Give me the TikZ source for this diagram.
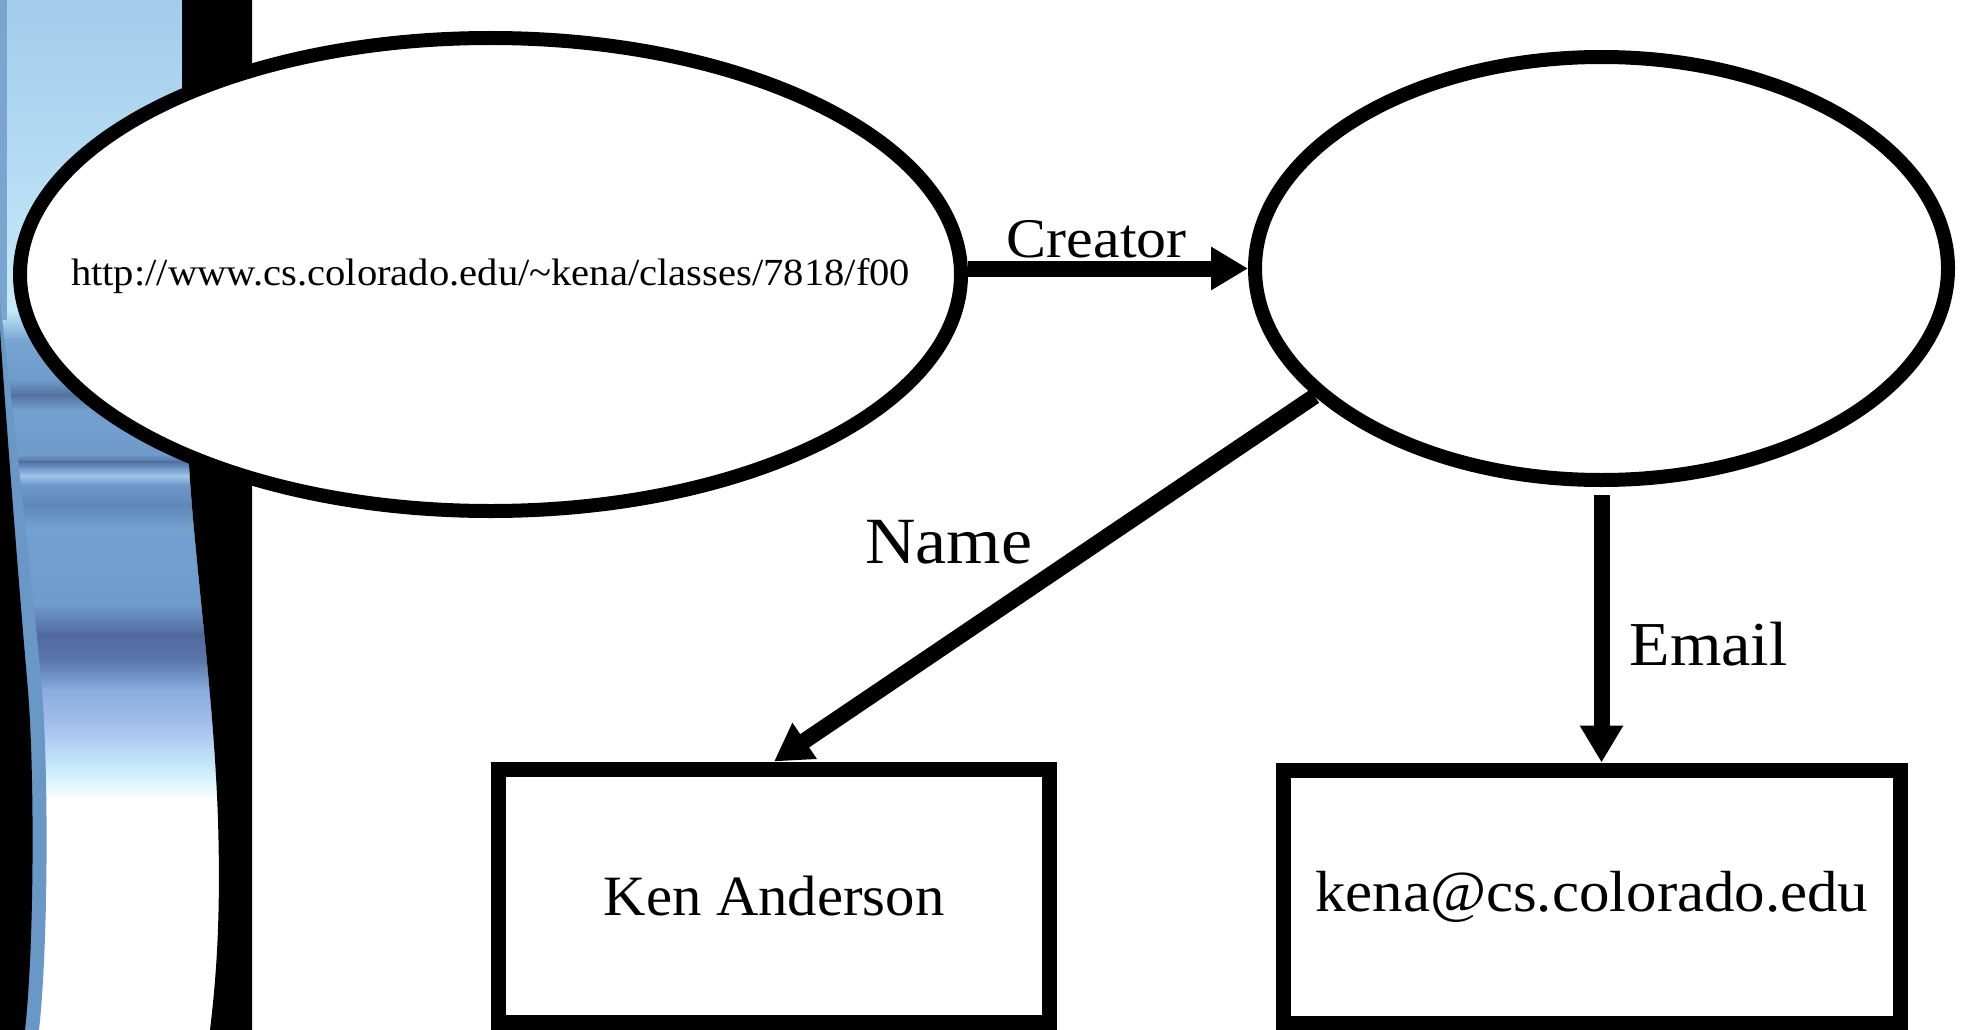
\documentclass[tikz,border=0pt]{standalone}
\usepackage{fontspec}
\setmainfont{Liberation Serif}
\usetikzlibrary{shapes.geometric,arrows.meta}
\newcommand{\hs}[2]{\scalebox{#1}[1]{#2}}
\definecolor{s0}{HTML}{A3CCEB}
\definecolor{s1}{HTML}{B8DFF4}
\definecolor{s2}{HTML}{C6EAF8}
\definecolor{s3}{HTML}{78A6D3}
\definecolor{s4}{HTML}{6E9BCB}
\definecolor{s5}{HTML}{54719F}
\definecolor{s6}{HTML}{72A0CF}
\definecolor{s7}{HTML}{6F9BCB}
\definecolor{s8}{HTML}{54719F}
\definecolor{s9}{HTML}{6A96C8}
\definecolor{s10}{HTML}{A0C5E8}
\definecolor{s11}{HTML}{6E99CB}
\definecolor{s12}{HTML}{5F86B8}
\definecolor{s13}{HTML}{72A0CF}
\definecolor{s14}{HTML}{6E9CCD}
\definecolor{s15}{HTML}{52699D}
\definecolor{s16}{HTML}{5A76AA}
\definecolor{s17}{HTML}{88ACDD}
\definecolor{s18}{HTML}{A6BEEE}
\definecolor{s19}{HTML}{C8EEFB}
\definecolor{s20}{HTML}{FFFFFF}
\definecolor{edgeblue}{HTML}{7AA5CF}
\definecolor{stripblue}{HTML}{6A98C6}
\begin{document}
\begin{tikzpicture}[x=1pt,y=-1pt,
  oval/.style={ellipse, draw=black, fill=white, line width=14pt, inner sep=0pt},
  valbox/.style={rectangle, draw=black, fill=white, line width=15pt, inner sep=0pt, minimum height=253pt},
  link/.style={line width=16pt, -{Triangle[length=37pt,width=41pt]}},
  lbl/.style={inner sep=0pt, text=black}]
% background / bounding box
\fill[white] (0,0) rectangle (1967,1030);
\useasboundingbox (0,0) rectangle (1967,1030);
% decorative left strip
\begin{scope}
  \clip (0,0) -- (182,0) -- (182,120) .. controls (184,300) and (186,420) .. (190,480)
        .. controls (197,580) and (214,700) .. (218,820)
        .. controls (221,920) and (216,980) .. (210,1030) -- (0,1030) -- cycle;
  \foreach \ya/\ca/\yb/\cb in {0/s0/200/s1, 200/s1/310/s2, 310/s2/340/s3, 340/s3/380/s4,
      380/s4/395/s5, 395/s5/410/s6, 410/s6/455/s7, 455/s7/462/s8, 462/s8/468/s9,
      468/s9/476/s10, 476/s10/485/s11, 485/s11/505/s12, 505/s12/527/s13,
      527/s13/605/s14, 605/s14/635/s15, 635/s15/660/s16, 660/s16/690/s17,
      690/s17/725/s18, 725/s18/770/s19, 770/s19/800/s20, 800/s20/1030/s20}
    \shade[top color=\ca, bottom color=\cb] (0,\ya-0.5) rectangle (260,\yb+0.5);
\end{scope}
\fill[edgeblue] (0,0) rectangle (7,320);
\fill[stripblue] (0,300) .. controls (14,420) and (34,600) .. (42,690)
      .. controls (49,780) and (48,950) .. (39,1030) -- (0,1030) -- cycle;
\fill[black] (0,330) .. controls (6,420) and (20,600) .. (28,690)
      .. controls (35,780) and (34,950) .. (25,1030) -- (0,1030) -- cycle;
\fill[black] (182,0) -- (252,0) -- (252,1030) -- (210,1030)
      .. controls (216,980) and (221,920) .. (218,820)
      .. controls (214,700) and (197,580) .. (190,480)
      .. controls (186,420) and (184,300) .. (182,120) -- cycle;
% nodes
\node[oval, minimum width=941pt, minimum height=473pt,
      label={[lbl, font=\fontsize{38.3}{40}\selectfont, yshift=-2pt]center:\hs{1.06}{http://www.cs.colorado.edu/\char`\~kena/classes/7818/f00}}]
      (l) at (490.5,274.5) {};
\node[oval, minimum width=693pt, minimum height=423pt] (r) at (1601.5,268.5) {};
\node[valbox, minimum width=551pt, font=\fontsize{57}{60}\selectfont] (k) at (774,895.5) {\hs{1.03}{Ken Anderson}};
\node[valbox, minimum width=616.5pt, font=\fontsize{58}{60}\selectfont] (e) at (1591.75,896.5) {\hs{1.05}{kena@cs.colorado.edu}};
% connectors
\draw[link] (l.east |- r.west) -- node[lbl, pos=0.46, anchor=base, yshift=11pt, font=\fontsize{56}{60}\selectfont]{\hs{1.07}{Creator}} (r.west);
\draw[link] (r.204) -- node[lbl, pos=0.4, anchor=east, xshift=-58pt, font=\fontsize{66}{70}\selectfont]{\hs{1.06}{Name}} (k.north);
\draw[link, shorten <=8pt] (r.south) -- node[lbl, pos=0.57, anchor=west, xshift=20pt, font=\fontsize{62.5}{66}\selectfont]{\hs{1.06}{Email}} (r.south |- e.north);
\end{tikzpicture}
\end{document}
